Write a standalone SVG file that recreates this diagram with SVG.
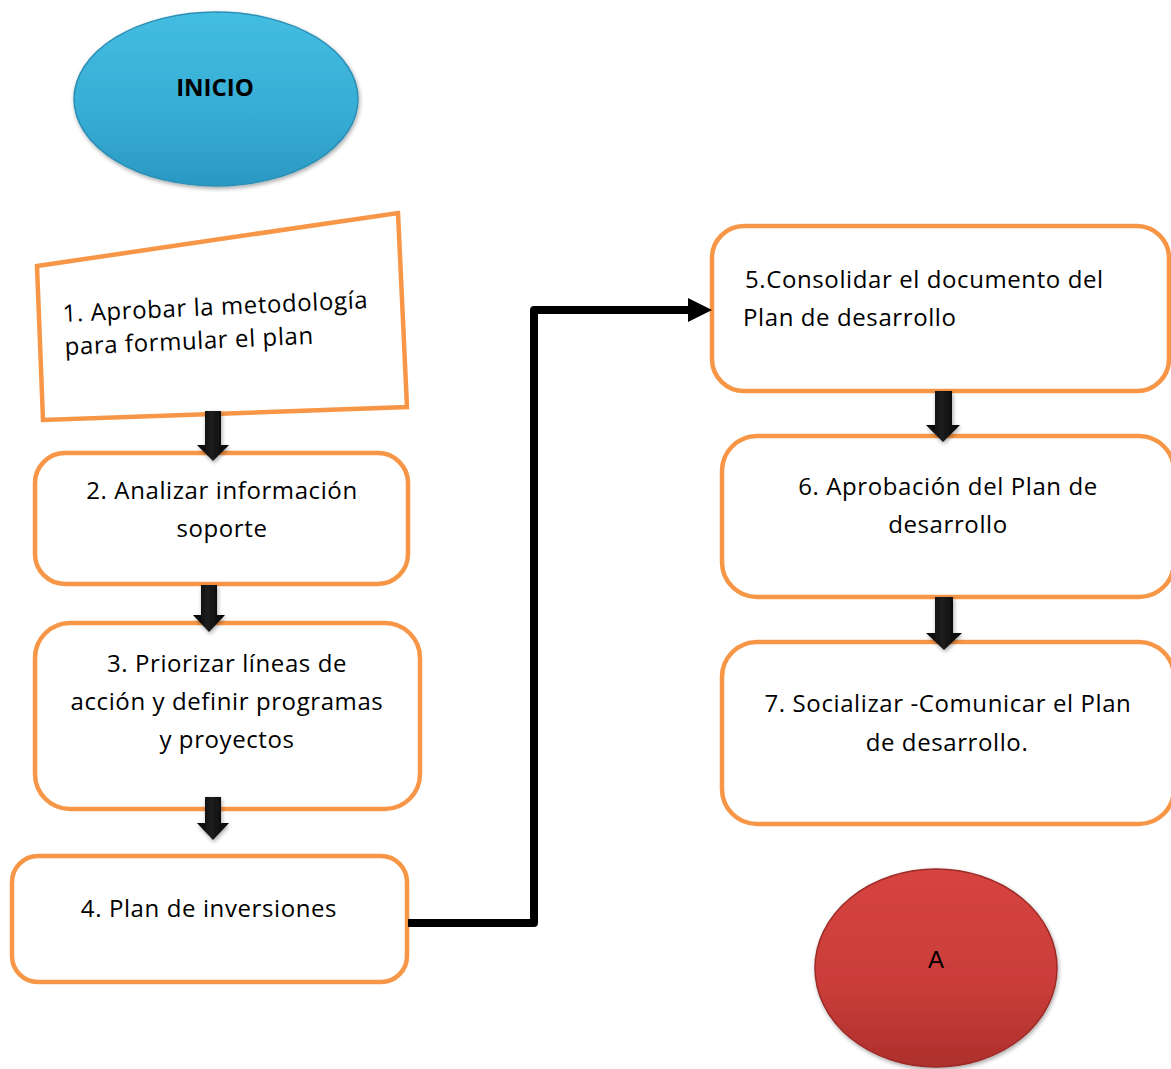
<svg xmlns="http://www.w3.org/2000/svg" width="1171" height="1069" viewBox="0 0 1171 1069">
<defs>
<linearGradient id="gBlue" x1="0" y1="0" x2="0" y2="1">
<stop offset="0" stop-color="#44bde1"/>
<stop offset="0.6" stop-color="#36acd4"/>
<stop offset="1" stop-color="#2a98c2"/>
</linearGradient>
<linearGradient id="gRed" x1="0" y1="0" x2="0" y2="1">
<stop offset="0" stop-color="#d64440"/>
<stop offset="0.6" stop-color="#c93d39"/>
<stop offset="1" stop-color="#ad302c"/>
</linearGradient>
<linearGradient id="gArrow" x1="0" y1="0" x2="1" y2="0">
<stop offset="0" stop-color="#000"/>
<stop offset="0.45" stop-color="#1e1e1e"/>
<stop offset="1" stop-color="#000"/>
</linearGradient>
<marker id="head" markerUnits="userSpaceOnUse" markerWidth="30" markerHeight="30" refX="4" refY="12" orient="auto" overflow="visible">
<path d="M0,0 L24,12 L0,24 Z" fill="#000"/>
</marker>
<filter id="sh" x="-20%" y="-20%" width="140%" height="140%">
<feGaussianBlur in="SourceAlpha" stdDeviation="2"/>
<feOffset dx="1" dy="2"/>
<feComponentTransfer><feFuncA type="linear" slope="0.35"/></feComponentTransfer>
<feMerge><feMergeNode/><feMergeNode in="SourceGraphic"/></feMerge>
</filter>
</defs>
<style>
.box{fill:#fff;stroke:#f79646;stroke-width:4.5}
.t{font-family:"Open Sans","Noto Sans",sans-serif;font-size:24px;letter-spacing:0.6px;fill:#000}
.c{text-anchor:middle}
.blk{fill:url(#gArrow)}
.conn{fill:none;stroke:#000;stroke-width:8;stroke-linejoin:round}
</style>

<g id="inicio">
<ellipse cx="216" cy="99" rx="142" ry="87" fill="url(#gBlue)" stroke="#2b8fb6" stroke-width="1.5" filter="url(#sh)"/>
<text class="t c" x="215" y="96" style="font-weight:bold;letter-spacing:0">INICIO</text>
</g>

<g id="n1">
<polygon class="box" points="37,266 398,213 407,407 43,420"/>
<text class="t" transform="rotate(-2.6 63 322)" x="63" y="322">1. Aprobar la metodología</text>
<text class="t" transform="rotate(-2.6 65 355)" x="65" y="355">para formular el plan</text>
</g>

<g id="n2">
<rect class="box" x="35" y="453" width="373" height="131" rx="30"/>
<text class="t c" x="222" y="499">2. Analizar información</text>
<text class="t c" x="222" y="537">soporte</text>
</g>

<g id="n3">
<rect class="box" x="35" y="623" width="385" height="186" rx="35"/>
<text class="t c" x="227" y="672">3. Priorizar líneas de</text>
<text class="t c" x="227" y="710">acción y definir programas</text>
<text class="t c" x="227" y="748">y proyectos</text>
</g>

<g id="n4">
<rect class="box" x="12" y="856" width="395" height="126" rx="26"/>
<text class="t c" x="209" y="917">4. Plan de inversiones</text>
</g>

<g id="n5">
<rect class="box" x="712" y="226" width="457" height="165" rx="32"/>
<text class="t" x="745" y="288"> 5.Consolidar el documento del</text>
<text class="t" x="743" y="326">Plan de desarrollo</text>
</g>

<g id="n6">
<rect class="box" x="722" y="436" width="452" height="161" rx="35"/>
<text class="t c" x="948" y="495">6. Aprobación del Plan de</text>
<text class="t c" x="948" y="533">desarrollo</text>
</g>

<g id="n7">
<rect class="box" x="722" y="642" width="452" height="182" rx="35"/>
<text class="t c" x="948" y="712">7. Socializar -Comunicar el Plan</text>
<text class="t c" x="947" y="751">de desarrollo.</text>
</g>

<g id="a">
<ellipse cx="936" cy="968" rx="121" ry="99" fill="url(#gRed)" stroke="#9c2a27" stroke-width="1.5" filter="url(#sh)"/>
<text class="t c" x="936" y="968" style="font-family:'Liberation Sans',Arial,sans-serif;letter-spacing:0">A</text>
</g>

<g id="connectors">
<path class="blk" filter="url(#sh)" d="M205,411 H221 V445 H229 L213,461 L197,445 H205 Z"/>
<path class="blk" filter="url(#sh)" d="M201,585 H217 V615 H225 L209,632 L193,615 H201 Z"/>
<path class="blk" filter="url(#sh)" d="M205,797 H221 V823 H229 L213,840 L197,823 H205 Z"/>
<path class="blk" filter="url(#sh)" d="M935,391 H952 V425 H960 L943,442 L926,425 H935 Z"/>
<path class="blk" filter="url(#sh)" d="M935,597 H953 V633 H962 L944,650 L926,633 H935 Z"/>
<polyline class="conn" points="408,923 534,923 534,310 692,310" marker-end="url(#head)"/>
</g>
</svg>
